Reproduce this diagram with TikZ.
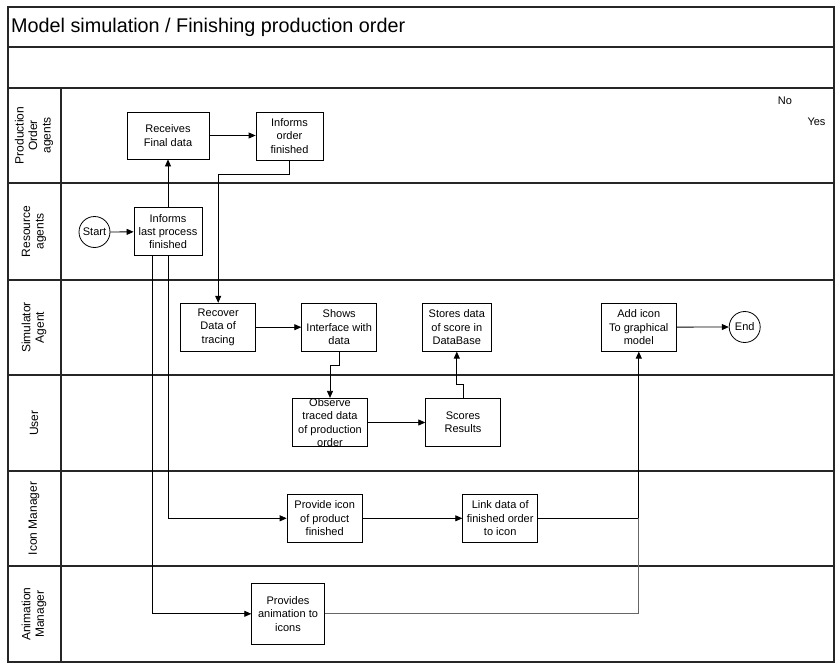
\documentclass[tikz,border=0pt]{standalone}
\usepackage{fontspec}
\setmainfont{Liberation Sans}
\usetikzlibrary{arrows.meta}
\begin{document}
\begin{tikzpicture}[x=1pt,y=-1pt,
  frame/.style={line width=1.1pt, draw=black!85},
  stepbox/.style={draw, line width=0.8pt, rectangle, inner sep=0pt, align=center,
    font=\fontsize{11}{13.3}\selectfont},
  boxtext/.style={inner sep=0pt, align=center, font=\fontsize{11}{13.3}\selectfont},
  term/.style={draw, circle, line width=0.8pt, minimum size=31pt, inner sep=0pt,
    font=\fontsize{11}{13.3}\selectfont},
  flow/.style={line width=0.8pt, -{Triangle[length=7pt,width=6pt]}},
  link/.style={line width=0.8pt},
  lanelabel/.style={rotate=90, align=center, font=\fontsize{12}{13.5}\selectfont},
  note/.style={inner sep=0pt, font=\fontsize{11}{13}\selectfont}
]
\useasboundingbox (0,0) rectangle (839,664);

% pool frame, title row, empty row and swimlanes
\draw[frame] (8,7) rectangle (834,662);
\draw[frame] (8,47) -- (834,47);
\draw[frame] (8,88) -- (834,88);
\foreach \yy in {183,280,375,471,566}
  \draw[frame] (8,\yy) -- (834,\yy);
\draw[frame] (61,88) -- (61,662);

\node[anchor=west, inner sep=0pt, font=\fontsize{19.8}{22}\selectfont] (title) at (11,27)
  {Model simulation / Finishing production order};

% lane headers
\node[lanelabel] (lpo)  at (34,135.5) {Production\\Order\\agents};
\node[lanelabel] (lres) at (34,231.5) {Resource\\agents};
\node[lanelabel] (lsim) at (34,327.5) {Simulator\\Agent};
\node[lanelabel] (lusr) at (34,423)   {User};
\node[lanelabel] (licn) at (34,518.5) {Icon Manager};
\node[lanelabel] (lani) at (34,614)   {Animation\\Manager};

\node[note] (no)  at (785,101)   {No};
\node[note] (yes) at (816.5,122) {Yes};

% activities
\node[stepbox, minimum width=82pt, minimum height=47pt] (rfd) at (168,135.5) {Receives\\Final data};
\node[stepbox, minimum width=67pt, minimum height=48pt] (iof) at (289.5,136) {Informs\\order\\finished};
\node[term] (start) at (94.5,232) {Start};
\node[stepbox, minimum width=68pt, minimum height=48pt] (ilp) at (168,231.7) {Informs\\last process\\finished};
\node[stepbox, minimum width=75pt, minimum height=48pt] (rec) at (218.2,327.2) {Recover\\Data of\\tracing};
\node[stepbox, minimum width=75pt, minimum height=48pt] (shw) at (339.2,327.2) {Shows\\Interface with\\data};
\node[stepbox, minimum width=68.7pt, minimum height=48pt] (sto) at (456.8,327.2) {Stores data\\of score in\\DataBase};
\node[stepbox, minimum width=75pt, minimum height=48pt] (add) at (638.8,327.2) {Add icon\\To graphical\\model};
\node[term] (end) at (744.7,327) {End};
\node[stepbox, minimum width=75.4pt, minimum height=48.4pt] (obs) at (330,422.5) {};
\node[boxtext] (obstext) at (obs.center) {Observe\\traced data\\of production\\order};
\node[stepbox, minimum width=74.6pt, minimum height=48pt] (sco) at (463,422.3) {Scores\\Results};
\node[stepbox, minimum width=75.3pt, minimum height=48pt] (pic) at (324.7,518.3) {Provide icon\\of product\\finished};
\node[stepbox, minimum width=75pt, minimum height=48pt] (lnk) at (500.2,518.3) {Link data of\\finished order\\to icon};
\node[stepbox, minimum width=72.6pt, minimum height=61pt] (ani) at (288,613.8) {Provides\\animation to\\icons};

% flows
\draw[flow] (start) -- (ilp);
\draw[flow] (ilp.north) -- (rfd.south);
\draw[flow] (rfd.east) -- (rfd.east -| iof.west);
\draw[flow] (iof.south) -- ++(0,14) -| (rec.north);
\draw[flow] (rec) -- (shw);
\draw[flow] (shw.south) -- ++(0,14) -| (obs.north);
\draw[flow] (obs.east) -- (obs.east -| sco.west);
\draw[flow] (sco.north) -- ++(0,-14) -| (sto.south);
\draw[flow] (add) -- (end);
\draw[flow] (ilp.south) |- (pic.west);
\draw[flow] ([xshift=-16pt]ilp.south) |- (ani.west);
\draw[flow] (pic.east) -- (pic.east -| lnk.west);
\draw[flow] (lnk.east) -| (add.south);
\draw[link, draw=black!60] (ani.east) -| (add.south |- lnk.east);
\end{tikzpicture}
\end{document}
